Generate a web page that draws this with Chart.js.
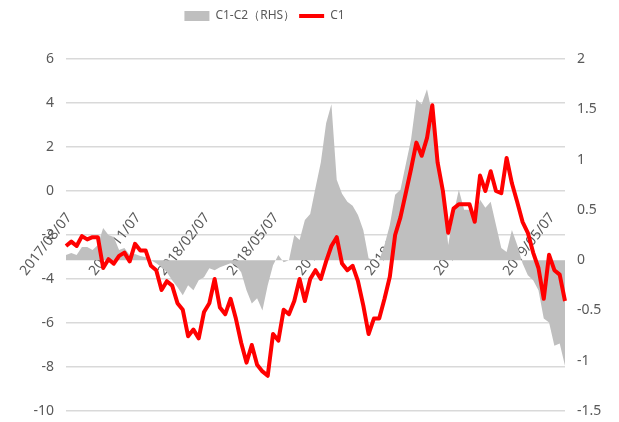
<!DOCTYPE html>
<html>
<head>
<meta charset="utf-8">
<script src="https://cdn.jsdelivr.net/npm/chart.js@4/dist/chart.umd.min.js"></script>
<style>
  html, body { margin: 0; padding: 0; background: #fff; }
  #wrap { width: 619px; height: 422px; }
</style>
</head>
<body>
<div id="wrap"><canvas id="chart" width="619" height="422"></canvas></div>
<script>
// weekly points starting 2017/08/07
const startDate = '2017/08/07';
const tickLabels = ['2017/08/07', '2017/11/07', '2018/02/07', '2018/05/07',
                    '2018/08/07', '2018/11/07', '2019/02/07', '2019/05/07'];

// C1-C2 (right axis)
const spread = [
  0.05, 0.07, 0.05, 0.13, 0.13, 0.10, 0.15, 0.32, 0.25, 0.23,
  0.10, 0.12, 0.05, 0.06, 0.04, 0.03, 0.00, -0.03, -0.07, -0.12,
  -0.20, -0.27, -0.35, -0.25, -0.30, -0.20, -0.17, -0.08, -0.10, -0.07,
  -0.05, -0.03, -0.05, -0.12, -0.30, -0.43, -0.38, -0.50, -0.25, -0.05,
  0.05, -0.02, 0.00, 0.25, 0.20, 0.40, 0.46, 0.72, 0.97, 1.36,
  1.55, 0.80, 0.66, 0.58, 0.54, 0.45, 0.30, 0.02, 0.00, 0.00,
  0.15, 0.35, 0.65, 0.70, 0.95, 1.20, 1.60, 1.55, 1.70, 1.45,
  1.00, 0.66, 0.15, 0.46, 0.70, 0.50, 0.50, 0.42, 0.60, 0.52,
  0.58, 0.35, 0.12, 0.08, 0.30, 0.15, -0.03, -0.15, -0.20, -0.30,
  -0.58, -0.62, -0.85, -0.83, -1.05
];

// C1 (left axis)
const c1 = [
  -2.5, -2.3, -2.5, -2.05, -2.2, -2.1, -2.1, -3.5, -3.1, -3.3,
  -2.95, -2.8, -3.2, -2.4, -2.7, -2.7, -3.4, -3.6, -4.5, -4.1,
  -4.3, -5.1, -5.4, -6.6, -6.3, -6.7, -5.5, -5.1, -4.0, -5.3,
  -5.6, -4.9, -5.8, -6.9, -7.8, -7.0, -7.9, -8.2, -8.4, -6.5,
  -6.8, -5.4, -5.6, -5.0, -4.0, -5.0, -4.0, -3.6, -4.0, -3.2,
  -2.5, -2.1, -3.3, -3.6, -3.4, -4.1, -5.2, -6.5, -5.8, -5.8,
  -4.9, -3.9, -2.0, -1.2, -0.1, 1.0, 2.2, 1.6, 2.4, 3.9,
  1.3, 0.0, -1.9, -0.8, -0.6, -0.6, -0.6, -1.4, 0.7, 0.0,
  0.9, 0.0, -0.1, 1.5, 0.35, -0.5, -1.4, -1.9, -2.8, -3.5,
  -4.9, -2.9, -3.6, -3.8, -5.0
];

const weeks = [];
(function () {
  const d = new Date(startDate.replace(/\//g, '-') + 'T00:00:00');
  for (let i = 0; i < c1.length; i++) {
    const w = new Date(d.getTime() + i * 7 * 86400000);
    weeks.push(w.getFullYear() + '/' + String(w.getMonth() + 1).padStart(2, '0') + '/' + String(w.getDate()).padStart(2, '0'));
  }
})();

const FONT = "'Noto Sans', sans-serif";
const txt = '#595959';

// nudge the legend a bit left, like the original
const legendShift = {
  id: 'legendShift',
  afterLayout(chart) {
    chart.legend.left -= 45;
    chart.legend.right -= 45;
  }
};

// keep the fixed axis widths and drop the extra label padding above/below
const fixAxis = w => s => {
  s.width = w;
  s.paddingTop = 0;
  s.paddingBottom = 11;
};

new Chart(document.getElementById('chart'), {
  type: 'line',
  data: {
    labels: weeks,
    datasets: [{
      label: 'C1-C2（RHS）',
      data: spread,
      yAxisID: 'y2',
      fill: 'origin',
      backgroundColor: '#BFBFBF',
      borderColor: '#BFBFBF',
      borderWidth: 0,
      pointRadius: 0,
      order: 2
    }, {
      label: 'C1',
      data: c1,
      yAxisID: 'y',
      fill: false,
      borderColor: '#FF0000',
      borderWidth: 4,
      borderJoinStyle: 'round',
      pointRadius: 0,
      order: 1
    }]
  },
  plugins: [legendShift],
  options: {
    responsive: false,
    animation: false,
    layout: { padding: { top: 6, bottom: 0 } },
    plugins: {
      tooltip: { enabled: false },
      legend: {
        position: 'top',
        labels: {
          font: { family: FONT, size: 12 },
          color: txt,
          usePointStyle: true,
          pointStyleWidth: 25,
          boxHeight: 10,
          padding: 4,
          sort: (a, b) => a.datasetIndex - b.datasetIndex,
          generateLabels: chart => chart.data.datasets.map((ds, i) => ({
            text: ds.label,
            datasetIndex: i,
            fillStyle: i === 0 ? '#BFBFBF' : '#FF0000',
            strokeStyle: i === 0 ? '#BFBFBF' : '#FF0000',
            lineWidth: i === 0 ? 0 : 4,
            pointStyle: i === 0 ? 'rect' : 'line',
            fontColor: txt
          }))
        }
      }
    },
    scales: {
      gap: {
        type: 'category',
        position: 'top',
        ticks: { display: false },
        grid: { display: false, drawTicks: false },
        border: { display: false },
        afterFit: s => { s.height = 27; }
      },
      x: {
        position: { y2: 0.5 },
        grid: { display: false, drawTicks: false },
        border: { display: false },
        ticks: {
          autoSkip: false,
          minRotation: 52,
          maxRotation: 52,
          padding: 0,
          labelOffset: 3,
          color: txt,
          font: { family: FONT, size: 14 },
          callback: (v, i) => i % 13 === 0 ? (tickLabels[i / 13] || '') : ''
        }
      },
      y: {
        position: 'left',
        min: -10, max: 6,
        ticks: { stepSize: 2, color: txt, font: { family: FONT, size: 14 }, padding: 12 },
        grid: { color: '#D9D9D9', lineWidth: 1.5, drawTicks: false },
        border: { display: false },
        afterFit: fixAxis(66)
      },
      y2: {
        position: 'right',
        min: -1.5, max: 2,
        ticks: {
          stepSize: 0.5, color: txt, font: { family: FONT, size: 14 }, padding: 12,
          callback: v => String(v)
        },
        grid: { display: false, drawTicks: false },
        border: { display: false },
        afterFit: fixAxis(54)
      }
    }
  }
});
</script>
</body>
</html>
